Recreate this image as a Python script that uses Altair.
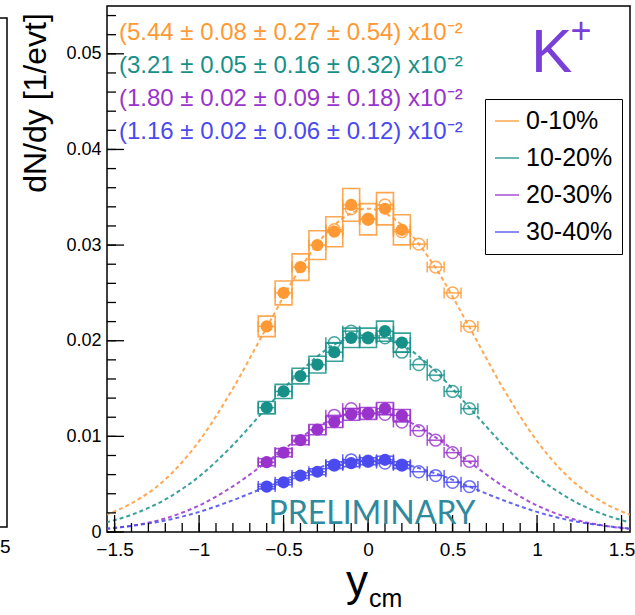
import altair as alt
import pandas as pd
import numpy as np

groups = ["0-10%", "10-20%", "20-30%", "30-40%"]
colors = ["#ff9933", "#17908a", "#9933cc", "#4a4aee"]
yield_texts = [
    "(5.44 \u00b1 0.08 \u00b1 0.27 \u00b1 0.54) x10\u207b\u00b2",
    "(3.21 \u00b1 0.05 \u00b1 0.16 \u00b1 0.32) x10\u207b\u00b2",
    "(1.80 \u00b1 0.02 \u00b1 0.09 \u00b1 0.18) x10\u207b\u00b2",
    "(1.16 \u00b1 0.02 \u00b1 0.06 \u00b1 0.12) x10\u207b\u00b2",
]

# measured (filled) points
x_filled = [-0.6, -0.5, -0.4, -0.3, -0.2, -0.1, 0.0, 0.1, 0.2]
y_filled = {
    "0-10%":  [0.0215, 0.0250, 0.0277, 0.0300, 0.0314, 0.0342, 0.0327, 0.0338, 0.0316],
    "10-20%": [0.0130, 0.0147, 0.0163, 0.0175, 0.0188, 0.0203, 0.0203, 0.0210, 0.0198],
    "20-30%": [0.0073, 0.0083, 0.0096, 0.0107, 0.0115, 0.0123, 0.0124, 0.0129, 0.0122],
    "30-40%": [0.00475, 0.0052, 0.0059, 0.0063, 0.0070, 0.0072, 0.0074, 0.00755, 0.0070],
}
# reflected (open) points
x_open = [-0.2, -0.1, 0.0, 0.1, 0.2, 0.3, 0.4, 0.5, 0.6]
y_open = {
    "0-10%":  [0.0316, 0.0338, 0.0327, 0.0342, 0.0314, 0.0301, 0.0277, 0.0250, 0.0215],
    "10-20%": [0.0198, 0.0210, 0.0203, 0.0203, 0.0188, 0.0175, 0.0164, 0.0147, 0.0129],
    "20-30%": [0.0122, 0.0129, 0.0124, 0.0123, 0.0115, 0.0106, 0.0096, 0.0083, 0.0074],
    "30-40%": [0.0070, 0.00755, 0.0074, 0.0072, 0.0070, 0.0063, 0.0059, 0.0052, 0.00475],
}
# fit curves
x_fit = [-1.55, -1.4, -1.2, -1.0, -0.8, -0.6, -0.4, -0.2, 0.0, 0.2, 0.4, 0.6, 0.8, 1.0, 1.2, 1.4, 1.55]
y_fit = {
    "0-10%":  [0.0018, 0.0030, 0.0055, 0.0095, 0.0150, 0.0214, 0.0276, 0.0321, 0.0338,
               0.0321, 0.0276, 0.0214, 0.0150, 0.0095, 0.0055, 0.0030, 0.0018],
    "10-20%": [0.0010, 0.0018, 0.0034, 0.0058, 0.0091, 0.0130, 0.0168, 0.0196, 0.0206,
               0.0196, 0.0168, 0.0130, 0.0091, 0.0058, 0.0034, 0.0018, 0.0010],
    "20-30%": [0.00033, 0.00065, 0.00142, 0.00277, 0.00478, 0.00731, 0.00989, 0.01186, 0.0126,
               0.01186, 0.00989, 0.00731, 0.00478, 0.00277, 0.00142, 0.00065, 0.00033],
    "30-40%": [0.00036, 0.00064, 0.0012, 0.0021, 0.00332, 0.00474, 0.00612, 0.00713, 0.0075,
               0.00713, 0.00612, 0.00474, 0.00332, 0.0021, 0.0012, 0.00064, 0.00036],
}
sys_frac = 0.05
half_bin = 0.05

y_major = [0.0, 0.01, 0.02, 0.03, 0.04, 0.05]
y_minor = [round(v, 3) for v in np.arange(0.0, 0.0549, 0.002)]
x_major = [-1.5, -1.0, -0.5, 0.0, 0.5, 1.0, 1.5]
x_minor = [round(v, 1) for v in np.arange(-1.5, 1.51, 0.1)]

W, H = 523, 526
FONT = "Liberation Sans"

fit_df = pd.DataFrame([(g, x, y) for g in groups for x, y in zip(x_fit, y_fit[g])],
                      columns=["g", "x", "y"])
fil_df = pd.DataFrame([(g, x, y) for g in groups for x, y in zip(x_filled, y_filled[g])],
                      columns=["g", "x", "y"])
opn_df = pd.DataFrame([(g, x, y) for g in groups for x, y in zip(x_open, y_open[g])],
                      columns=["g", "x", "y"])
for d in (fil_df, opn_df):
    d["xl"] = d["x"] - half_bin
    d["xh"] = d["x"] + half_bin
fil_df["yl"] = fil_df["y"] * (1 - sys_frac)
fil_df["yh"] = fil_df["y"] * (1 + sys_frac)

xs = alt.Scale(domain=[-1.545, 1.55], nice=False, zero=False)
ys = alt.Scale(domain=[0, 0.055], nice=False, zero=False)
cs = alt.Scale(domain=groups, range=colors)

X = lambda f: alt.X(f, type="quantitative", scale=xs, title=None,
                    axis=alt.Axis(values=x_major, labelExpr="format(datum.value, '~g')"))
Y = lambda f: alt.Y(f, type="quantitative", scale=ys, title=None,
                    axis=alt.Axis(values=y_major, labelExpr="format(datum.value, '~g')"))

lines = alt.Chart(fit_df).mark_line(strokeDash=[4, 3], strokeWidth=2, opacity=0.85,
                                    interpolate="monotone", clip=True).encode(
    x=X("x"), y=Y("y"),
    color=alt.Color("g:N", scale=cs, sort=groups,
                    legend=alt.Legend(title=None, orient="none", legendX=378, legendY=93,
                                      symbolType="stroke", symbolSize=576, symbolStrokeWidth=1.5,
                                      symbolDash=[1, 0], labelFontSize=25, labelFont=FONT,
                                      labelColor="black", rowPadding=11, labelOffset=6,
                                      padding=9, strokeColor="black", fillColor="white")),
    detail="g:N",
)

boxes = alt.Chart(fil_df).mark_rect(filled=False, strokeWidth=1.6, strokeOpacity=0.85).encode(
    x=X("xl"), x2="xh", y=Y("yl"), y2="yh",
    stroke=alt.Color("g:N", scale=cs, legend=None),
)

allpts = pd.concat([fil_df, opn_df])
hbars = alt.Chart(allpts).mark_rule(strokeWidth=1.5, opacity=0.85).encode(
    x=X("xl"), x2="xh", y=Y("y"), color=alt.Color("g:N", scale=cs, legend=None))
capl = alt.Chart(allpts).mark_tick(orient="vertical", size=11, thickness=1.5, opacity=0.85).encode(
    x=X("xl"), y=Y("y"), color=alt.Color("g:N", scale=cs, legend=None))
caph = alt.Chart(allpts).mark_tick(orient="vertical", size=11, thickness=1.5, opacity=0.85).encode(
    x=X("xh"), y=Y("y"), color=alt.Color("g:N", scale=cs, legend=None))

opens = alt.Chart(opn_df).mark_point(filled=False, size=140, strokeWidth=1.5, opacity=0.8).encode(
    x=X("x"), y=Y("y"), color=alt.Color("g:N", scale=cs, legend=None))
fills = alt.Chart(fil_df).mark_circle(size=150, opacity=1).encode(
    x=X("x"), y=Y("y"), color=alt.Color("g:N", scale=cs, legend=None))

# inward ticks
ytick_major = alt.Chart(pd.DataFrame({"v": y_major})).mark_rule(color="black", strokeWidth=1.3).encode(
    y=Y("v"), x=alt.value(0), x2=alt.value(17))
ytick_minor = alt.Chart(pd.DataFrame({"v": y_minor})).mark_rule(color="black", strokeWidth=1.3).encode(
    y=Y("v"), x=alt.value(0), x2=alt.value(9))
xtick_major = alt.Chart(pd.DataFrame({"v": x_major})).mark_rule(color="black", strokeWidth=1.3).encode(
    x=X("v"), y=alt.value(H), y2=alt.value(H - 17))
xtick_minor = alt.Chart(pd.DataFrame({"v": x_minor})).mark_rule(color="black", strokeWidth=1.3).encode(
    x=X("v"), y=alt.value(H), y2=alt.value(H - 9))

texts = []
for i, (t, c) in enumerate(zip(yield_texts, colors)):
    texts.append(alt.Chart(pd.DataFrame({"t": [t]})).mark_text(
        align="left", baseline="alphabetic", font=FONT, fontSize=24, color=c).encode(
        text="t:N", x=alt.value(12), y=alt.value(34 + 33 * i)))

def label(txt, x, y, **kw):
    return alt.Chart(pd.DataFrame({"t": [txt]})).mark_text(**kw).encode(
        text="t:N", x=alt.value(x), y=alt.value(y))

kplus = label("K", 424, 66, align="left", baseline="alphabetic", font=FONT, fontSize=62, color="#7a3fd8")
kplus2 = label("+", 474, 26, align="center", baseline="middle", font=FONT, fontSize=36, color="#7a3fd8")
prelim = label("PRELIMINARY", 265, 518, align="center", baseline="alphabetic", font="Lato",
               fontSize=32, color="#2f8a9e")
ytitle = label("dN/dy [1/evt]", -71, 97, align="center", baseline="middle", angle=270,
               font=FONT, fontSize=32, color="black")
xt1 = label("y", 250, 590, align="center", baseline="alphabetic", font=FONT, fontSize=44, color="black")
xt2 = label("cm", 262, 601, align="left", baseline="alphabetic", font=FONT, fontSize=25, color="black")
nb_frame = alt.Chart(pd.DataFrame({"a": [0]})).mark_rect(filled=False, stroke="black", strokeWidth=1.5).encode(
    x=alt.value(-130), x2=alt.value(-100), y=alt.value(12), y2=alt.value(521))
nb_lab = label("5", -107, 541, align="left", baseline="middle", font=FONT, fontSize=19, color="black")

chart = alt.layer(
    nb_frame, nb_lab,
    lines, boxes, hbars, capl, caph, opens, fills,
    ytick_minor, ytick_major, xtick_minor, xtick_major,
    *texts, kplus, kplus2, prelim, ytitle, xt1, xt2,
).resolve_scale(color="shared").properties(
    width=W, height=H,
    autosize=alt.AutoSizeParams(type="none"),
    padding={"left": 107, "top": 6, "right": 5, "bottom": 83},
).configure_view(stroke="black", strokeWidth=1.5).configure_axis(
    domain=False, ticks=False, grid=False, labelFont=FONT, labelColor="black",
).configure_axisY(labelFontSize=18, labelPadding=6).configure_axisX(labelFontSize=19, labelPadding=8)

chart.save("out.html", embed_options={"renderer": "svg", "actions": False})
